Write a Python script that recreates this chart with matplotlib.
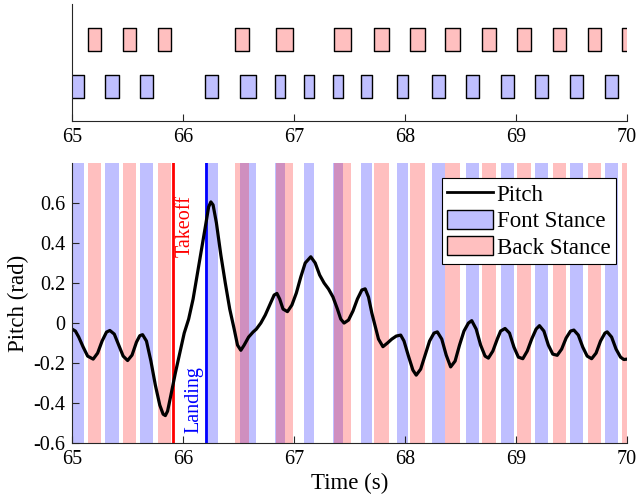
import matplotlib.pyplot as plt
from matplotlib.lines import Line2D
from matplotlib.patches import Patch

plt.rcParams['font.family'] = ['Liberation Serif', 'DejaVu Serif']
plt.rcParams['axes.unicode_minus'] = False

# stance phases (start, end) in seconds
front_start = [64.95, 65.300, 65.612, 66.197, 66.510, 66.830, 67.087, 67.352, 67.606,
               67.923, 68.245, 68.550, 68.865, 69.170, 69.482, 69.802]
front_end = [65.108, 65.420, 65.733, 66.314, 66.660, 66.914, 67.182, 67.436, 67.706,
             68.027, 68.355, 68.662, 68.979, 69.288, 69.604, 69.922]
back_start = [65.145, 65.455, 65.776, 66.470, 66.837, 67.363, 67.719, 68.042, 68.360,
              68.695, 69.012, 69.328, 69.645, 69.957]
back_end = [65.263, 65.578, 65.895, 66.590, 66.988, 67.515, 67.855, 68.175, 68.493,
            68.820, 69.137, 69.452, 69.767, 70.08]

takeoff_t = 65.907
landing_t = 66.207

# pitch trace
time = [65.00, 65.03, 65.06, 65.10, 65.14, 65.19, 65.23, 65.27, 65.31, 65.34,
        65.38, 65.42, 65.46, 65.50, 65.54, 65.58, 65.61, 65.635, 65.67, 65.71,
        65.75, 65.79, 65.82, 65.84, 65.86, 65.89, 65.93, 65.97, 66.01, 66.05,
        66.09, 66.13, 66.17, 66.20, 66.23, 66.25, 66.27, 66.30, 66.34, 66.38,
        66.42, 66.46, 66.49, 66.52, 66.55, 66.59, 66.63, 66.66, 66.70, 66.74,
        66.78, 66.82, 66.845, 66.87, 66.90, 66.94, 66.98, 67.02, 67.06, 67.10,
        67.15, 67.19, 67.23, 67.27, 67.31, 67.35, 67.39, 67.42, 67.45, 67.49,
        67.53, 67.57, 67.61, 67.64, 67.67, 67.70, 67.73, 67.76, 67.80, 67.84,
        67.88, 67.92, 67.96, 67.99, 68.03, 68.07, 68.10, 68.14, 68.18, 68.22,
        68.26, 68.29, 68.33, 68.37, 68.41, 68.45, 68.49, 68.53, 68.57, 68.60,
        68.64, 68.68, 68.72, 68.75, 68.79, 68.83, 68.86, 68.90, 68.94, 68.98,
        69.02, 69.06, 69.10, 69.14, 69.18, 69.21, 69.25, 69.29, 69.33, 69.37,
        69.41, 69.45, 69.49, 69.52, 69.56, 69.60, 69.64, 69.68, 69.72, 69.76,
        69.80, 69.82, 69.86, 69.90, 69.94, 69.97, 70.00]
pitch = [-0.030, -0.040, -0.070, -0.120, -0.165, -0.180, -0.150, -0.090, -0.045, -0.037,
         -0.055, -0.110, -0.165, -0.187, -0.160, -0.095, -0.063, -0.058, -0.090, -0.190,
         -0.310, -0.410, -0.455, -0.462, -0.440, -0.360, -0.250, -0.150, -0.050, 0.020,
         0.120, 0.250, 0.380, 0.480, 0.580, 0.605, 0.590, 0.500, 0.340, 0.200,
         0.070, -0.030, -0.110, -0.136, -0.110, -0.070, -0.045, -0.030, 0.000, 0.040,
         0.090, 0.140, 0.148, 0.120, 0.070, 0.057, 0.090, 0.150, 0.230, 0.300,
         0.331, 0.300, 0.240, 0.200, 0.170, 0.130, 0.070, 0.020, 0.000, 0.015,
         0.060, 0.120, 0.165, 0.171, 0.130, 0.050, -0.015, -0.080, -0.118, -0.100,
         -0.080, -0.065, -0.060, -0.090, -0.165, -0.235, -0.260, -0.230, -0.160, -0.090,
         -0.050, -0.044, -0.080, -0.160, -0.219, -0.190, -0.110, -0.040, 0.000, 0.012,
         -0.030, -0.110, -0.165, -0.175, -0.140, -0.080, -0.040, -0.027, -0.050, -0.120,
         -0.170, -0.178, -0.140, -0.080, -0.030, -0.013, -0.040, -0.110, -0.155, -0.161,
         -0.130, -0.075, -0.040, -0.035, -0.060, -0.120, -0.165, -0.178, -0.150, -0.090,
         -0.050, -0.044, -0.070, -0.130, -0.170, -0.182, -0.180]

blue = (0, 0, 1, 0.25)
red = (1, 0, 0, 0.25)
axis_col = '#262626'

fig = plt.figure(figsize=(6.38, 4.98), dpi=100)
ax_top = fig.add_axes([0.113, 0.757, 0.870, 0.235])
ax = fig.add_axes([0.113, 0.110, 0.870, 0.563])

# top: gait diagram
ax_top.broken_barh([(s, e - s) for s, e in zip(front_start, front_end)], (0.75, 0.5),
                   facecolors=blue, edgecolors='black', linewidth=1)
ax_top.broken_barh([(s, e - s) for s, e in zip(back_start, back_end)], (1.75, 0.5),
                   facecolors=red, edgecolors='black', linewidth=1)
ax_top.set_xlim(65, 70)
ax_top.set_ylim(0.25, 2.77)
ax_top.set_yticks([])
ax_top.set_xticks(range(65, 71))

# bottom: pitch with stance bands
for s, e in zip(front_start, front_end):
    ax.axvspan(s, e, color=blue, lw=0)
for s, e in zip(back_start, back_end):
    ax.axvspan(s, e, color=red, lw=0)
ax.axvline(takeoff_t, color='red', lw=2)
ax.axvline(landing_t, color='blue', lw=2)
ax.plot(time, pitch, color='black', lw=2.3)
ax.text(takeoff_t + 0.025, 0.33, 'Takeoff', color='red', rotation=90,
        ha='left', va='bottom', fontsize=14.5)
ax.text(landing_t - 0.02, -0.55, 'Landing', color='blue', rotation=90,
        ha='right', va='bottom', fontsize=14.5)
ax.set_xlim(65, 70)
ax.set_ylim(-0.6, 0.8)
ax.set_xticks(range(65, 71))
ax.set_yticks([-0.6, -0.4, -0.2, 0, 0.2, 0.4, 0.6])
ax.set_yticklabels(['-0.6', '-0.4', '-0.2', '0', '0.2', '0.4', '0.6'])
ax.set_xlabel('Time (s)', fontsize=16.5, labelpad=3)
ax.set_ylabel('Pitch (rad)', fontsize=16.5, labelpad=3)

handles = [Line2D([], [], color='black', lw=2),
           Patch(facecolor=blue, edgecolor='black'),
           Patch(facecolor=red, edgecolor='black')]
leg = ax.legend(handles, ['Pitch', 'Font Stance', 'Back Stance'], loc='upper right',
                bbox_to_anchor=(0.98, 0.946), fontsize=16.5, fancybox=False,
                framealpha=1, edgecolor='black', borderpad=0.25, labelspacing=0.17,
                handlelength=2.0, handleheight=0.9, handletextpad=0.15, borderaxespad=0)
leg.get_frame().set_linewidth(0.8)

for a in (ax_top, ax):
    for side in ('top', 'right'):
        a.spines[side].set_visible(False)
    for side in ('left', 'bottom'):
        a.spines[side].set_color(axis_col)
    a.tick_params(direction='in', length=5, labelsize=14.5, colors=axis_col,
                  labelcolor='black', pad=5)

fig.savefig('out.png', dpi=100)
